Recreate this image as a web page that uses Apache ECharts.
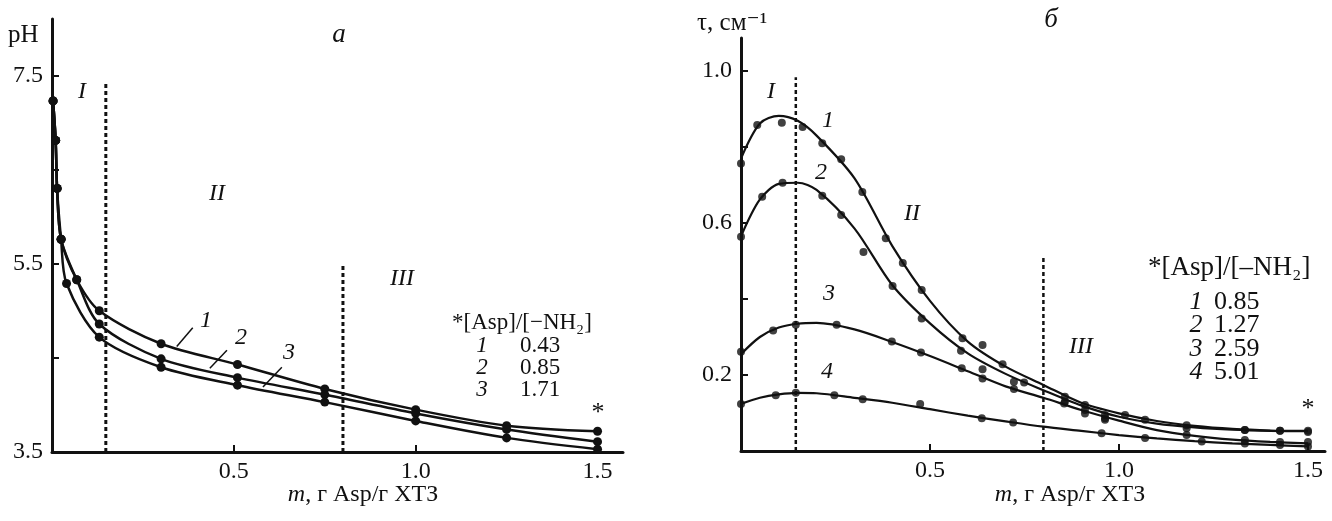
<!DOCTYPE html>
<html>
<head>
<meta charset="utf-8">
<script src="https://cdn.jsdelivr.net/npm/echarts@6/dist/echarts.min.js"></script>
<style>
  html, body { margin: 0; padding: 0; background: #fff; }
  #chart { width: 1332px; height: 521px; }
</style>
</head>
<body>
<div id="chart"></div>
<script>
// ---- panel а : pH vs m ----
const mA12 = [0.003, 0.010, 0.014, 0.025, 0.068, 0.13, 0.30, 0.51, 0.75, 1.0, 1.25, 1.5]
const mA3 = [0.003, 0.010, 0.014, 0.025, 0.040, 0.13, 0.30, 0.51, 0.75, 1.0, 1.25, 1.5]
const ph1 = [7.23, 6.81, 6.30, 5.76, 5.33, 5.00, 4.65, 4.43, 4.17, 3.95, 3.78, 3.72]
const ph2 = [7.23, 6.81, 6.30, 5.76, 5.33, 4.86, 4.49, 4.29, 4.11, 3.91, 3.74, 3.61]
const ph3 = [7.23, 6.81, 6.30, 5.76, 5.29, 4.72, 4.40, 4.21, 4.03, 3.83, 3.65, 3.53]
const bordersA = [[0.148, 7.43], [0.80, 5.5]]
const leadersA = [[[0.343, 4.62], [0.387, 4.82]], [[0.434, 4.39], [0.481, 4.58]], [[0.58, 4.19], [0.632, 4.40]]]
const ratiosA = ['0.43', '0.85', '1.71']

// ---- panel б : τ vs m ----
// smooth curves as drawn
const mCurve = [0, 0.05, 0.1, 0.15, 0.2, 0.3, 0.4, 0.5, 0.6, 0.7, 0.8, 0.9, 1.0, 1.1, 1.2, 1.3, 1.4, 1.5]
const tau1 = [0.77, 0.862, 0.882, 0.869, 0.83, 0.718, 0.54, 0.395, 0.288, 0.222, 0.174, 0.127, 0.099, 0.079, 0.066, 0.058, 0.054, 0.053]
const tau2 = [0.565, 0.662, 0.703, 0.706, 0.687, 0.586, 0.437, 0.336, 0.257, 0.203, 0.16, 0.12, 0.09, 0.072, 0.062, 0.056, 0.053, 0.052]
const tau3 = [0.255, 0.30, 0.325, 0.335, 0.337, 0.32, 0.287, 0.25, 0.21, 0.17, 0.14, 0.108, 0.08, 0.055, 0.04, 0.03, 0.024, 0.02]
const tau4 = [0.124, 0.14, 0.149, 0.153, 0.152, 0.14, 0.127, 0.11, 0.093, 0.078, 0.064, 0.053, 0.042, 0.033, 0.026, 0.02, 0.016, 0.012]
// measured points
const pts1 = [[0, 0.757], [0.043, 0.858], [0.108, 0.864], [0.163, 0.853], [0.215, 0.81], [0.265, 0.768], [0.321, 0.682], [0.383, 0.56], [0.428, 0.495], [0.478, 0.424], [0.586, 0.297], [0.639, 0.279], [0.692, 0.228], [0.749, 0.18], [0.857, 0.143], [0.910, 0.121], [0.963, 0.095], [1.016, 0.095], [1.069, 0.082], [1.179, 0.068], [1.333, 0.055], [1.426, 0.053], [1.5, 0.053]]
const pts2 = [[0, 0.564], [0.056, 0.669], [0.110, 0.706], [0.215, 0.672], [0.265, 0.621], [0.324, 0.524], [0.401, 0.434], [0.478, 0.349], [0.582, 0.264], [0.639, 0.215], [0.722, 0.182], [0.857, 0.130], [0.910, 0.108], [0.963, 0.086], [1.179, 0.06], [1.333, 0.055], [1.426, 0.053], [1.5, 0.05]]
const pts3 = [[0, 0.261], [0.085, 0.317], [0.145, 0.332], [0.253, 0.332], [0.399, 0.288], [0.476, 0.259], [0.584, 0.218], [0.639, 0.191], [0.722, 0.163], [0.855, 0.125], [0.910, 0.099], [0.963, 0.082], [1.179, 0.042], [1.333, 0.029], [1.426, 0.024], [1.5, 0.024]]
const pts4 = [[0, 0.124], [0.092, 0.147], [0.145, 0.153], [0.247, 0.147], [0.322, 0.136], [0.474, 0.124], [0.637, 0.086], [0.72, 0.075], [0.954, 0.047], [1.069, 0.034], [1.219, 0.025], [1.333, 0.02], [1.426, 0.016], [1.5, 0.012]]
const bordersB = [[0.145, 0.984], [0.80, 0.51]]
const ratiosB = ['0.85', '1.27', '2.59', '5.01']

const ink = '#111'
const serif = '"Liberation Serif", "DejaVu Serif", serif'

const zip = (xs, ys) => xs.map((x, i) => [x, ys[i]])

const chart = echarts.init(document.getElementById('chart'))

const makeX = (gridIndex, max) => ({
  gridIndex: gridIndex,
  type: 'value',
  min: 0,
  max: max,
  axisLine: { onZero: false, lineStyle: { color: ink, width: 3 } },
  axisTick: { inside: true, length: 7, customValues: [0.5, 1.0, 1.5], lineStyle: { color: ink, width: 2 } },
  axisLabel: { customValues: [0.5, 1.0, 1.5], formatter: v => v.toFixed(1), color: ink, fontFamily: serif, fontSize: 24, margin: 8 },
  splitLine: { show: false }
})

const makeY = (gridIndex, min, max, ticks, labels) => ({
  gridIndex: gridIndex,
  type: 'value',
  min: min,
  max: max,
  axisLine: { show: true, onZero: false, lineStyle: { color: ink, width: 3 } },
  axisTick: { show: true, inside: true, length: 7, customValues: ticks, lineStyle: { color: ink, width: 2 } },
  axisLabel: { customValues: labels, formatter: v => v.toFixed(1), color: ink, fontFamily: serif, fontSize: 24, margin: 9 },
  splitLine: { show: false }
})

const series = []

// panel а curves
;[[mA12, ph1], [mA12, ph2], [mA3, ph3]].forEach(([xs, ys]) => {
  series.push({
    type: 'line', xAxisIndex: 0, yAxisIndex: 0,
    data: zip(xs, ys),
    smooth: 0.3,
    symbol: 'circle', symbolSize: 9,
    itemStyle: { color: ink },
    lineStyle: { color: ink, width: 2.5 },
    silent: true
  })
})
bordersA.forEach(([m, top]) => {
  series.push({
    type: 'line', xAxisIndex: 0, yAxisIndex: 0,
    data: [[m, 3.5], [m, top]], symbol: 'none',
    lineStyle: { color: ink, width: 3, type: [4, 3] }, silent: true
  })
})
leadersA.forEach(seg => {
  series.push({
    type: 'line', xAxisIndex: 0, yAxisIndex: 0,
    data: seg, symbol: 'none',
    lineStyle: { color: ink, width: 1.5 }, silent: true
  })
})

// panel б curves + points
;[tau1, tau2, tau3, tau4].forEach(ys => {
  series.push({
    type: 'line', xAxisIndex: 1, yAxisIndex: 1,
    data: zip(mCurve, ys),
    smooth: 0.3, showSymbol: false,
    lineStyle: { color: ink, width: 2.2 }, silent: true
  })
})
;[pts1, pts2, pts3, pts4].forEach(pts => {
  series.push({
    type: 'scatter', xAxisIndex: 1, yAxisIndex: 1,
    data: pts, symbol: 'circle', symbolSize: 8,
    itemStyle: { color: ink }, silent: true
  })
})
bordersB.forEach(([m, top]) => {
  series.push({
    type: 'line', xAxisIndex: 1, yAxisIndex: 1,
    data: [[m, 0], [m, top]], symbol: 'none',
    lineStyle: { color: ink, width: 2.5, type: [4, 3] }, silent: true
  })
})

const txt = (x, y, text, size, opts) => ({
  type: 'text', x: x, y: y, silent: true,
  style: Object.assign({
    text: text, fill: ink, fontFamily: serif, fontSize: size,
    align: 'center', verticalAlign: 'middle'
  }, (opts && opts.style) || {})
})
const it = (x, y, text, size, align) => txt(x, y, text, size, { style: { fontStyle: 'italic', align: align || 'center' } })
const richM = { i: { fontStyle: 'italic', fontFamily: serif, fontSize: 24, fill: ink } }

const graphic = [
  // panel а
  txt(8, 35, 'pH', 25, { style: { align: 'left' } }),
  it(339, 35, 'а', 27),
  it(82, 92, 'I', 24), it(217, 194, 'II', 24), it(402, 279, 'III', 24),
  it(206, 321, '1', 24), it(241, 338, '2', 24), it(289, 353, '3', 24),
  txt(452, 323, '*[Asp]/[−NH₂]', 23, { style: { align: 'left' } }),
  txt(598, 413, '*', 26),
  txt(363, 495, '{i|m}, г Asp/г ХТЗ', 24, { style: { rich: richM } }),
  // panel б
  txt(697, 23, 'τ, см⁻¹', 25, { style: { align: 'left' } }),
  it(1051, 20, 'б', 27),
  it(771, 92, 'I', 24), it(912, 214, 'II', 24), it(1081, 347, 'III', 24),
  it(828, 121, '1', 24), it(821, 173, '2', 24), it(829, 294, '3', 24), it(827, 372, '4', 24),
  txt(1148, 268, '*[Asp]/[–NH₂]', 27, { style: { align: 'left' } }),
  txt(1308, 409, '*', 26),
  txt(1070, 495, '{i|m}, г Asp/г ХТЗ', 24, { style: { rich: richM } })
]
ratiosA.forEach((r, i) => {
  const y = 346 + i * 22
  graphic.push(it(482, y, String(i + 1), 23))
  graphic.push(txt(520, y, r, 23, { style: { align: 'left' } }))
})
ratiosB.forEach((r, i) => {
  const y = 302 + i * 23.5
  graphic.push(it(1196, y, String(i + 1), 26))
  graphic.push(txt(1214, y, r, 26, { style: { align: 'left' } }))
})

const option = {
  backgroundColor: '#fff',
  animation: false,
  grid: [
    { left: 52, top: 19, width: 571, height: 433 },
    { left: 741, top: 38, width: 584, height: 413 }
  ],
  xAxis: [makeX(0, 1.57), makeX(1, 1.545)],
  yAxis: [
    makeY(0, 3.5, 8.1, [4.5, 5.5, 6.5, 7.5], [3.5, 5.5, 7.5]),
    makeY(1, 0, 1.087, [0.2, 0.4, 0.6, 0.8, 1.0], [0.2, 0.6, 1.0])
  ],
  series: series,
  graphic: graphic
}

chart.setOption(option)
</script>
</body>
</html>
